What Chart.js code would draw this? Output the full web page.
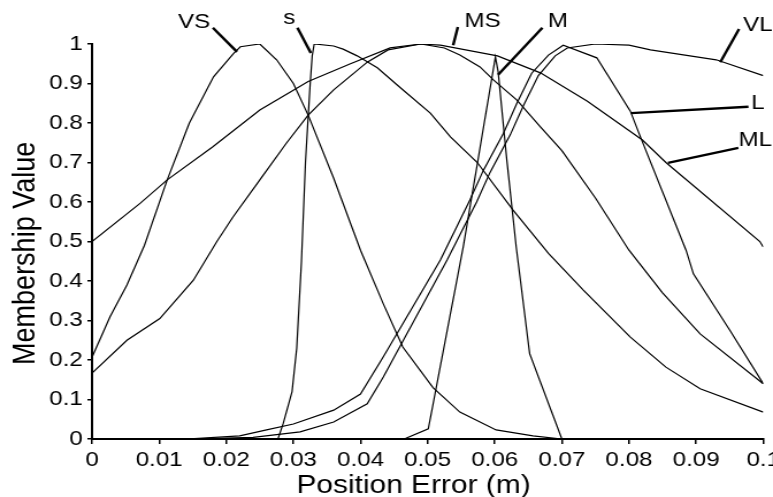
<!DOCTYPE html>
<html>
<head>
<meta charset="utf-8">
<script src="https://cdn.jsdelivr.net/npm/chart.js@4.4.1/dist/chart.umd.min.js"></script>
<style>
  html, body { margin: 0; padding: 0; background: #fff; overflow: hidden; }
</style>
</head>
<body>
<!-- the original figure is stretched sideways, so the canvas is drawn narrow and widened by css -->
<canvas id="chart" width="672" height="497" style="display:block;width:773px;height:497px"></canvas>
<script>
const FONT = '"Liberation Sans", Arial, sans-serif';

const xTickValues = [0, 0.01, 0.02, 0.03, 0.04, 0.05, 0.06, 0.07, 0.08, 0.09, 0.1];
const xTickLabels = ['0', '0.01', '0.02', '0.03', '0.04', '0.05', '0.06', '0.07', '0.08', '0.09', '0.1'];
const yTickValues = [0, 0.1, 0.2, 0.3, 0.4, 0.5, 0.6, 0.7, 0.8, 0.9, 1];
const yTickLabels = ['0', '0.1', '0.2', '0.3', '0.4', '0.5', '0.6', '0.7', '0.8', '0.9', '1'];
const xTitle = 'Position Error (m)';
const yTitle = 'Membership Value';

// membership curves, [position error, membership]
const vsPoints = [[0, 0.207], [0.0027, 0.31], [0.0052, 0.39], [0.0078, 0.49], [0.0112, 0.656], [0.0145, 0.80],
  [0.0181, 0.917], [0.0211, 0.976], [0.0221, 0.993], [0.025, 1.0], [0.0275, 0.96], [0.030, 0.90],
  [0.0322, 0.82], [0.036, 0.66], [0.040, 0.478], [0.0434, 0.342], [0.0463, 0.233], [0.0508, 0.13],
  [0.0548, 0.068], [0.0602, 0.023], [0.0657, 0.008], [0.070, 0], [0.1, 0]];
const sPoints = [[0, 0], [0.0277, 0], [0.0285, 0.04], [0.0298, 0.12], [0.0305, 0.23], [0.0312, 0.45],
  [0.0318, 0.70], [0.0325, 0.90], [0.0328, 0.97], [0.0331, 1.0], [0.036, 0.995], [0.0374, 0.987],
  [0.0395, 0.97], [0.0425, 0.94], [0.0459, 0.89], [0.0504, 0.825], [0.0534, 0.765], [0.0574, 0.70],
  [0.0627, 0.58], [0.068, 0.47], [0.0732, 0.377], [0.0802, 0.258], [0.0855, 0.182], [0.0906, 0.127],
  [0.1, 0.068]];
const msPoints = [[0, 0.167], [0.0052, 0.25], [0.0101, 0.305], [0.0151, 0.402], [0.0186, 0.50],
  [0.021, 0.562], [0.025, 0.656], [0.029, 0.75], [0.0322, 0.82], [0.036, 0.884], [0.041, 0.954],
  [0.0441, 0.985], [0.049, 1.0], [0.0525, 0.99], [0.0548, 0.972], [0.0578, 0.942], [0.0598, 0.909],
  [0.0633, 0.858], [0.0668, 0.79], [0.0700, 0.73], [0.075, 0.61], [0.0800, 0.478], [0.085, 0.37],
  [0.0906, 0.266], [0.1, 0.14]];
const mPoints = [[0, 0], [0.0465, 0], [0.0501, 0.026], [0.0553, 0.486], [0.0601, 0.967], [0.0605, 0.93],
  [0.0618, 0.706], [0.0632, 0.486], [0.0652, 0.216], [0.070, 0], [0.1, 0]];
const mlPoints = [[0, 0.5], [0.0072, 0.597], [0.0112, 0.656], [0.018, 0.74], [0.025, 0.833],
  [0.0322, 0.905], [0.0385, 0.95], [0.0444, 0.99], [0.049, 1.0], [0.0519, 0.997], [0.0604, 0.97],
  [0.0668, 0.927], [0.0738, 0.855], [0.082, 0.757], [0.0855, 0.70], [0.0995, 0.50], [0.1, 0.486]];
const lPoints = [[0, 0], [0.014, 0], [0.022, 0.008], [0.026, 0.023], [0.030, 0.038], [0.036, 0.073],
  [0.040, 0.114], [0.0434, 0.208], [0.0519, 0.453], [0.0563, 0.605], [0.0583, 0.68], [0.0613, 0.774],
  [0.0633, 0.85], [0.0655, 0.926], [0.068, 0.972], [0.0702, 0.997], [0.0752, 0.965], [0.0802, 0.83],
  [0.0817, 0.765], [0.0885, 0.478], [0.0896, 0.418], [0.095, 0.276], [0.1, 0.14]];
const vlPoints = [[0, 0], [0.014, 0], [0.024, 0.004], [0.031, 0.018], [0.036, 0.043], [0.041, 0.089],
  [0.0434, 0.157], [0.0529, 0.453], [0.0573, 0.60], [0.0593, 0.675], [0.0623, 0.77], [0.0643, 0.845],
  [0.0665, 0.92], [0.069, 0.97], [0.0708, 0.99], [0.075, 1.0], [0.080, 0.997], [0.0832, 0.985],
  [0.093, 0.96], [0.1, 0.92]];

const seriesNames = ['VS', 's', 'MS', 'M', 'ML', 'L', 'VL'];
const seriesPoints = [vsPoints, sPoints, msPoints, mPoints, mlPoints, lPoints, vlPoints];

// curve names written above/right of the plot with a short pointer line (data units)
const labelNames = ['VS', 's', 'MS', 'M', 'VL', 'L', 'ML'];
const labelAt = [[0.0152, 1.056], [0.0294, 1.066], [0.0582, 1.058], [0.0694, 1.058], [0.0992, 1.048], [0.0992, 0.851], [0.0988, 0.757]];
const pointerFrom = [[0.0180, 1.041], [0.0306, 1.041], [0.0545, 1.043], [0.0671, 1.041], [0.0964, 1.038], [0.0978, 0.841], [0.0963, 0.737]];
const pointerTo = [[0.0216, 0.980], [0.0326, 0.977], [0.0538, 0.997], [0.0605, 0.922], [0.0936, 0.954], [0.0803, 0.825], [0.0858, 0.699]];

const curveLabels = {
    id: 'curveLabels',
    afterDatasetsDraw(chart) {
        const { ctx, chartArea } = chart;
        const x = chart.scales.x;
        const y = chart.scales.y;
        ctx.save();
        ctx.strokeStyle = '#000';
        ctx.lineWidth = 2.4;
        ctx.fillStyle = '#000';
        ctx.font = `21px ${FONT}`;
        ctx.textAlign = 'center';
        ctx.textBaseline = 'middle';
        labelNames.forEach((name, i) => {
            ctx.beginPath();
            ctx.moveTo(x.getPixelForValue(pointerFrom[i][0]), y.getPixelForValue(pointerFrom[i][1]));
            ctx.lineTo(x.getPixelForValue(pointerTo[i][0]), y.getPixelForValue(pointerTo[i][1]));
            ctx.stroke();
            ctx.fillText(name, x.getPixelForValue(labelAt[i][0]), y.getPixelForValue(labelAt[i][1]));
        });

        // axis titles sit a little off-centre in the original
        ctx.font = `26px ${FONT}`;
        ctx.textBaseline = 'alphabetic';
        ctx.fillText(xTitle, chartArea.left + 0.479 * (chartArea.right - chartArea.left), chart.height - 4);
        ctx.translate(22.6, chartArea.top + 0.53 * (chartArea.bottom - chartArea.top));
        ctx.rotate(-Math.PI / 2);
        ctx.font = `27px ${FONT}`;
        ctx.textBaseline = 'middle';
        ctx.fillText(yTitle, 0, 0);
        ctx.restore();
    }
};

const datasets = seriesNames.map((name, i) => ({
    label: name,
    data: seriesPoints[i].map(p => ({ x: p[0], y: p[1] })),
    borderColor: '#000',
    borderWidth: 1.2,
    pointRadius: 0,
    tension: 0,
    fill: false
}));

const ctx = document.getElementById('chart').getContext('2d');
new Chart(ctx, {
    type: 'line',
    data: { datasets },
    options: {
        responsive: false,
        animation: false,
        layout: { padding: { left: 0, right: 8.5, top: 44, bottom: 0 } },
        plugins: { legend: { display: false }, tooltip: { enabled: false } },
        scales: {
            x: {
                type: 'linear',
                min: 0,
                max: 0.1,
                afterBuildTicks: s => { s.ticks = xTickValues.map(v => ({ value: v })); },
                afterFit: s => { s.height = 58; s.paddingLeft = 0; s.paddingRight = 0; },
                ticks: {
                    callback: (v, i) => xTickLabels[i],
                    color: '#000',
                    font: { family: FONT, size: 21 },
                    padding: 4,
                    maxRotation: 0,
                    autoSkip: false
                },
                grid: { drawOnChartArea: false, drawTicks: true, tickLength: 5, color: '#000', lineWidth: 1.5 },
                border: { display: true, color: '#000', width: 2 }
            },
            y: {
                type: 'linear',
                min: 0,
                max: 1,
                afterBuildTicks: s => { s.ticks = yTickValues.map(v => ({ value: v })); },
                afterFit: s => { s.width = 80; s.paddingTop = 0; s.paddingBottom = 0; },
                ticks: {
                    callback: (v, i) => yTickLabels[i],
                    color: '#000',
                    font: { family: FONT, size: 21 },
                    padding: 4,
                    autoSkip: false
                },
                grid: { drawOnChartArea: false, drawTicks: true, tickLength: 4, color: '#000', lineWidth: 1.5 },
                border: { display: true, color: '#000', width: 2 }
            }
        }
    },
    plugins: [curveLabels]
});
</script>
</body>
</html>
